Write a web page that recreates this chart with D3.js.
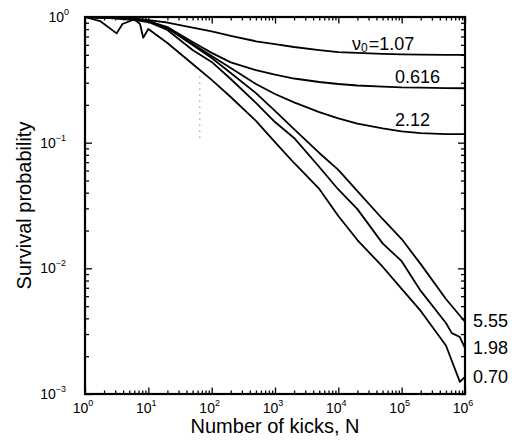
<!doctype html>
<html>
  <head>
    <script src="https://cdn.jsdelivr.net/npm/d3@7"></script>
    <style>
      body { margin: 0; background: #fff; }
      text { font-family: "Liberation Sans", Arial, Helvetica, sans-serif; fill: #000; }
    </style>
  </head>
  <body>
    <div id="my_dataviz"></div>
    <script>
      // survival curves, one pair of arrays per nu0 (N = kicks, P = survival)
      var nA = [1, 2, 5, 10, 20, 50, 100, 200, 500, 1e3, 2e3, 5e3, 1e4, 2e4, 5e4, 1e5, 2e5, 5e5, 1e6];
      var pA = [1, 0.993, 0.982, 0.946, 0.904, 0.824, 0.767, 0.707, 0.641, 0.608, 0.577, 0.546, 0.526, 0.518, 0.508, 0.504, 0.501, 0.499, 0.499];

      var nB = [1, 2, 5, 10, 20, 50, 100, 200, 500, 1e3, 2e3, 5e3, 1e4, 2e4, 5e4, 1e5, 2e5, 5e5, 1e6];
      var pB = [1, 0.991, 0.973, 0.929, 0.832, 0.632, 0.518, 0.435, 0.378, 0.348, 0.324, 0.304, 0.293, 0.285, 0.279, 0.275, 0.274, 0.272, 0.271];

      var nC = [1, 2, 5, 10, 20, 50, 100, 200, 500, 1e3, 2e3, 5e3, 1e4, 2e4, 5e4, 1e5, 2e5, 5e5, 1e6];
      var pC = [1, 0.991, 0.973, 0.929, 0.817, 0.610, 0.490, 0.393, 0.293, 0.244, 0.209, 0.175, 0.156, 0.142, 0.130, 0.123, 0.119, 0.117, 0.117];

      var nD = [1, 2, 5, 10, 20, 50, 100, 200, 500, 1e3, 2e3, 5e3, 1e4, 2e4, 5e4, 1e5, 2e5, 5e5, 1e6];
      var pD = [1, 0.991, 0.973, 0.929, 0.817, 0.599, 0.472, 0.358, 0.248, 0.179, 0.128, 0.0828, 0.0607, 0.0412, 0.0247, 0.0171, 0.0108, 0.0057, 0.00376];

      var nE = [1, 1.73, 3.16, 3.9, 5.7, 10, 20, 50, 100, 200, 500, 1e3, 2e3, 5e3, 1e4, 2e4, 5e4, 1e5, 2e5, 5e5, 6.2e5, 8.3e5, 1e6];
      var pE = [1, 0.929, 0.741, 0.880, 0.947, 0.912, 0.788, 0.546, 0.439, 0.321, 0.207, 0.146, 0.109, 0.0640, 0.0424, 0.0296, 0.0158, 0.0114, 0.00661, 0.00367, 0.00305, 0.00284, 0.00232];

      var nF = [1, 2.5, 6.2, 7.4, 8.3, 10, 20, 50, 100, 200, 500, 1e3, 2e3, 5e3, 1e4, 2e4, 5e4, 1e5, 2e5, 5e5, 8.3e5, 1e6];
      var pF = [1, 0.982, 0.946, 0.879, 0.684, 0.803, 0.621, 0.423, 0.316, 0.231, 0.149, 0.101, 0.0689, 0.0428, 0.0261, 0.0168, 0.0103, 0.00686, 0.00458, 0.00243, 0.00125, 0.00137];

      // faint dotted mark in the original figure
      var dotN = [65, 65];
      var dotP = [0.335, 0.102];

      var xMajor = [0, 1, 2, 3, 4, 5, 6];   // exponents
      var yMajor = [-3, -2, -1, 0];

      var width = 520, height = 443;
      var margin = {top: 17, right: 55, bottom: 49, left: 85};

      var svg = d3.select("#my_dataviz")
        .append("svg")
          .attr("width", width)
          .attr("height", height);

      var x = d3.scaleLog()
        .domain([1, 1e6])
        .range([margin.left, width - margin.right]);

      var y = d3.scaleLog()
        .domain([1e-3, 1])
        .range([height - margin.bottom, margin.top]);

      // minor tick values 2..9 x 10^k
      var xMinor = [], yMinor = [];
      for (var k = 0; k < 6; k++)
        for (var m = 2; m < 10; m++) xMinor.push(m * Math.pow(10, k));
      for (var k = -3; k < 0; k++)
        for (var m = 2; m < 10; m++) yMinor.push(m * Math.pow(10, k));
      var xMaj = xMajor.map(function(e) { return Math.pow(10, e); });
      var yMaj = yMajor.map(function(e) { return Math.pow(10, e); });

      var x0 = margin.left, x1 = width - margin.right;
      var y0 = height - margin.bottom, y1 = margin.top;

      function ticks(axis, vals, size, pos) {
        svg.append("g")
          .attr("transform", pos)
          .call(axis.tickValues(vals).tickSize(size).tickFormat(""))
          .call(function(g) { g.select(".domain").remove(); })
          .selectAll("line").attr("stroke", "#000").attr("stroke-width", 1.3);
      }
      ticks(d3.axisBottom(x), xMinor, -3.5, "translate(0," + y0 + ")");
      ticks(d3.axisBottom(x), xMaj, -6.5, "translate(0," + y0 + ")");
      ticks(d3.axisTop(x), xMinor, -3.5, "translate(0," + y1 + ")");
      ticks(d3.axisTop(x), xMaj, -6.5, "translate(0," + y1 + ")");
      ticks(d3.axisLeft(y), yMinor, -4, "translate(" + x0 + ",0)");
      ticks(d3.axisLeft(y), yMaj, -7, "translate(" + x0 + ",0)");
      ticks(d3.axisRight(y), yMinor, -4, "translate(" + x1 + ",0)");
      ticks(d3.axisRight(y), yMaj, -7, "translate(" + x1 + ",0)");

      // frame
      svg.append("rect")
        .attr("x", x0).attr("y", y1)
        .attr("width", x1 - x0).attr("height", y0 - y1)
        .attr("fill", "none").attr("stroke", "#000").attr("stroke-width", 2.2);

      // tick labels with superscript exponents
      xMajor.forEach(function(e) {
        var t = svg.append("text")
          .attr("x", x(Math.pow(10, e)) - 2)
          .attr("y", y0 + 19)
          .attr("text-anchor", "middle")
          .style("font-size", "14px");
        t.append("tspan").text("10");
        t.append("tspan").attr("dy", -7).style("font-size", "9px").text(e);
      });
      yMajor.forEach(function(e) {
        var t = svg.append("text")
          .attr("x", x0 - 19)
          .attr("y", y(Math.pow(10, e)) + 5)
          .attr("text-anchor", "end")
          .style("font-size", "14px");
        t.append("tspan").text("10");
        t.append("tspan").attr("dy", -7).style("font-size", "9px").text(e === 0 ? "0" : "\u2212" + (-e));
        if (e === 0) t.attr("x", x0 - 16);
      });

      // axis titles
      svg.append("text")
        .attr("x", (x0 + x1) / 2)
        .attr("y", height - 10)
        .attr("text-anchor", "middle")
        .style("font-size", "20px")
        .text("Number of kicks, N");

      svg.append("text")
        .attr("transform", "translate(31," + ((y0 + y1) / 2) + ") rotate(-90)")
        .attr("text-anchor", "middle")
        .style("font-size", "20px")
        .text("Survival probability");

      // curves
      var line = d3.line()
        .x(function(d) { return x(d[0]); })
        .y(function(d) { return y(d[1]); });

      var curves = [[nA, pA], [nB, pB], [nC, pC], [nD, pD], [nE, pE], [nF, pF]];
      curves.forEach(function(c) {
        svg.append("path")
          .datum(d3.zip(c[0], c[1]))
          .attr("d", line)
          .attr("fill", "none")
          .attr("stroke", "#000")
          .attr("stroke-width", 1.8)
          .attr("stroke-linejoin", "round");
      });

      svg.append("path")
        .datum(d3.zip(dotN, dotP))
        .attr("d", line)
        .attr("stroke", "#555")
        .attr("stroke-width", 1)
        .attr("stroke-dasharray", "1,5");

      // curve labels
      var lab = svg.append("text")
        .attr("x", 352).attr("y", 50)
        .style("font-size", "18px");
      lab.append("tspan").text("\u03bd");
      lab.append("tspan").attr("dy", 2).style("font-size", "12px").text("0");
      lab.append("tspan").attr("dy", -2).attr("dx", 1).text("=1.07");

      svg.append("text").attr("x", 395).attr("y", 83).style("font-size", "18px").text("0.616");
      svg.append("text").attr("x", 395).attr("y", 126).style("font-size", "18px").text("2.12");
      svg.append("text").attr("x", 473).attr("y", 327).style("font-size", "18px").text("5.55");
      svg.append("text").attr("x", 473).attr("y", 354).style("font-size", "18px").text("1.98");
      svg.append("text").attr("x", 473).attr("y", 383).style("font-size", "18px").text("0.70");
    </script>
  </body>
</html>
